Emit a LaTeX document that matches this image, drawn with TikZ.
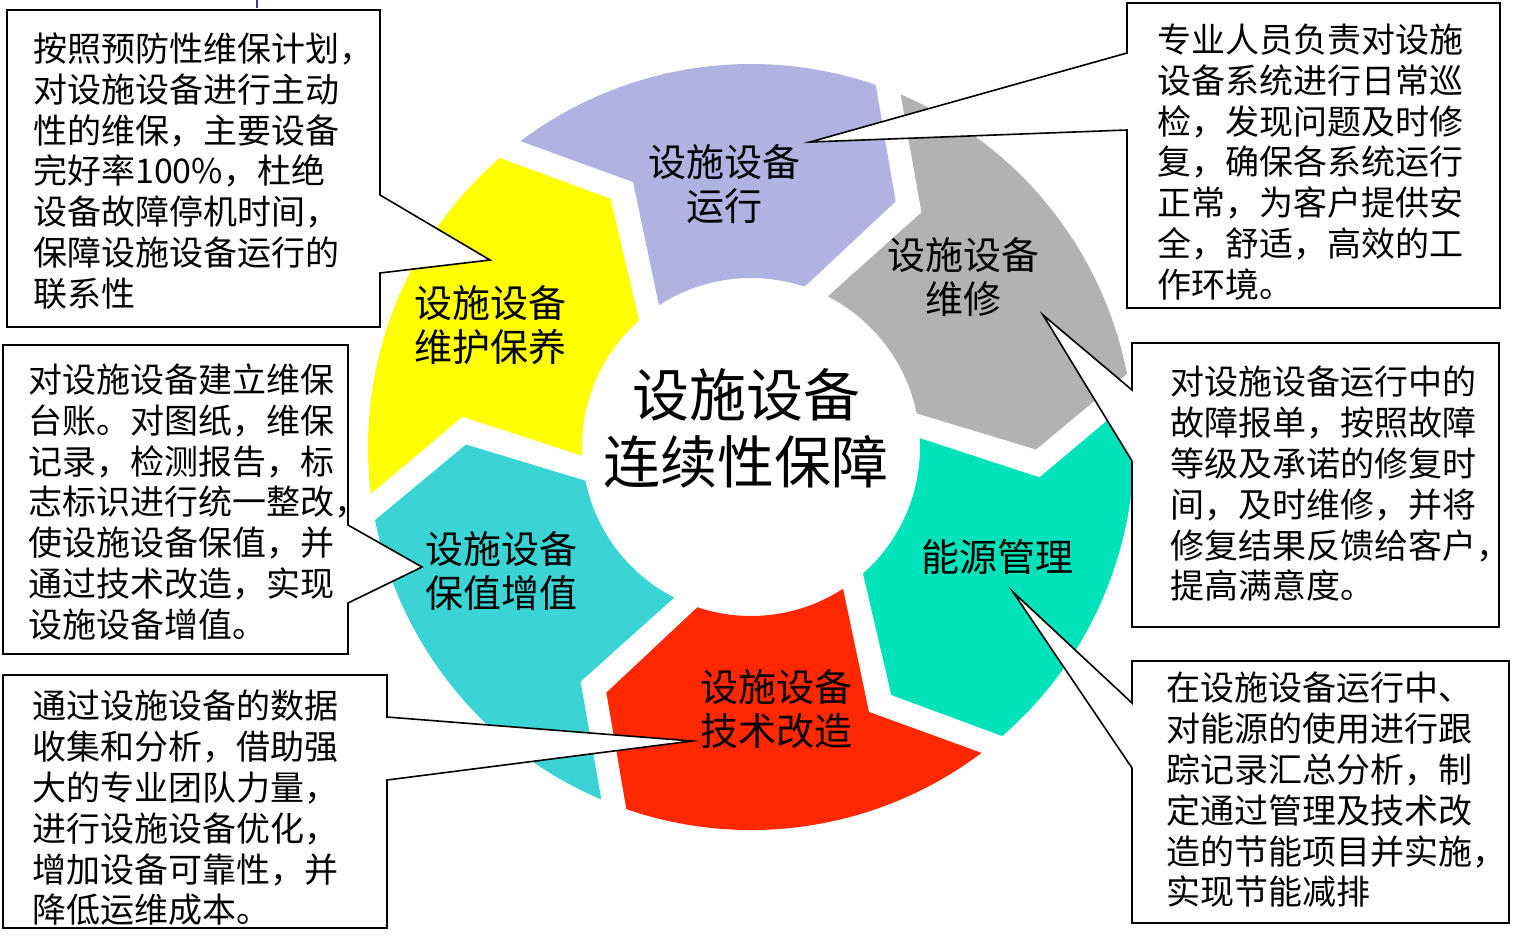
\documentclass[tikz,border=0pt]{standalone}
\usepackage{fontspec}
\setmainfont{Noto Sans CJK SC}
\definecolor{segpurple}{RGB}{176,179,226}
\definecolor{seggray}{RGB}{178,178,178}
\definecolor{segteal}{RGB}{0,226,185}
\definecolor{segred}{RGB}{255,40,0}
\definecolor{segcyan}{RGB}{58,212,212}
\definecolor{segyellow}{RGB}{255,255,0}
\definecolor{markblue}{RGB}{60,60,160}
\begin{document}
\begin{tikzpicture}[x=1pt,y=-1pt,
  callout/.style={draw=black, fill=white, line width=1.6pt, line join=miter},
  boxtext/.style={font=\fontsize{34}{40.8}\selectfont, align=left, anchor=west, inner sep=0pt},
  labeltext/.style={font=\fontsize{38}{44}\selectfont, align=center, inner sep=0pt},
  centertext/.style={font=\fontsize{57}{67}\selectfont, align=center, inner sep=0pt}]
\useasboundingbox (0,0) rectangle (1517,937);
\fill[white] (0,0) rectangle (1517,937);
\draw[markblue, line width=2.5pt] (257,0) -- (257,8);
% ring segments
\begin{scope}[shift={(751,447)}, y=1pt]
\foreach \t/\c in {99/segpurple, 39/seggray, -21/segteal, -81/segred, -141/segcyan, 159/segyellow}{
  \fill[\c] ({\t+28}:383) arc[start angle={\t+28}, end angle={\t-28}, radius=383]
    -- ({\t-39.5}:285) -- ({\t-27.5}:169)
    arc[start angle={\t-27.5}, end angle={\t+24}, radius=169]
    -- ({\t+15}:290) -- cycle;
}
\end{scope}
% segment labels
\node[labeltext] (lrun) at (724,184.5) {设施设备\\运行};
\node[labeltext] (lrep) at (963,277) {设施设备\\维修};
\node[labeltext] (lmnt) at (490,325) {设施设备\\维护保养};
\node[labeltext] (lval) at (501,570.5) {设施设备\\保值增值};
\node[labeltext] (ltec) at (776,709.5) {设施设备\\技术改造};
\node[labeltext] (lene) at (997,557) {能源管理};
\node[centertext] (ctr) at (746,428.5) {设施设备\\连续性保障};
% callouts
\path[callout] (7,10) -- (380,10) -- (380,195) -- (490,260) -- (380,273) -- (380,327) -- (7,327) -- cycle;
\path[callout] (1127,3) -- (1500,3) -- (1500,308) -- (1127,308) -- (1127,130) -- (810,142) -- (1127,53) -- cycle;
\path[callout] (1132,343) -- (1499,343) -- (1499,627) -- (1132,627) -- (1132,461) -- (1043,315) -- (1132,390) -- cycle;
\path[callout] (1132,661) -- (1509,661) -- (1509,923) -- (1132,923) -- (1132,768) -- (1013,592) -- (1132,703) -- cycle;
\path[callout] (3,345) -- (348,345) -- (348,525) -- (422,567) -- (348,603) -- (348,654) -- (3,654) -- cycle;
\path[callout] (3,675) -- (387,675) -- (387,717) -- (692,741) -- (387,780) -- (387,928) -- (3,928) -- cycle;
% callout texts
\node[boxtext] (t1) at (33,171) {按照预防性维保计划，\\对设施设备进行主动\\性的维保，主要设备\\完好率100\%，杜绝\\设备故障停机时间，\\保障设施设备运行的\\联系性};
\node[boxtext] (t2) at (1157,162) {专业人员负责对设施\\设备系统进行日常巡\\检，发现问题及时修\\复，确保各系统运行\\正常，为客户提供安\\全，舒适，高效的工\\作环境。};
\node[boxtext] (t3) at (1170,484) {对设施设备运行中的\\故障报单，按照故障\\等级及承诺的修复时\\间，及时维修，并将\\修复结果反馈给客户，\\提高满意度。};
\node[boxtext] (t4) at (1166,790) {在设施设备运行中、\\对能源的使用进行跟\\踪记录汇总分析，制\\定通过管理及技术改\\造的节能项目并实施，\\实现节能减排};
\node[boxtext] (t5) at (28,502) {对设施设备建立维保\\台账。对图纸，维保\\记录，检测报告，标\\志标识进行统一整改，\\使设施设备保值，并\\通过技术改造，实现\\设施设备增值。};
\node[boxtext] (t6) at (32,808) {通过设施设备的数据\\收集和分析，借助强\\大的专业团队力量，\\进行设施设备优化，\\增加设备可靠性，并\\降低运维成本。};
\end{tikzpicture}
\end{document}
